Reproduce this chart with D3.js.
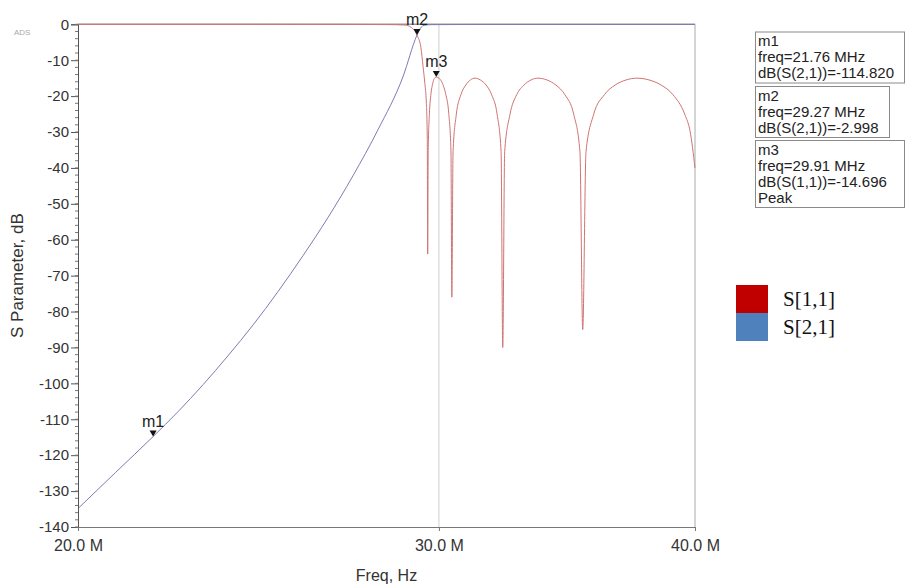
<!DOCTYPE html>
<html>
<head>
<meta charset="utf-8">
<script src="https://cdn.jsdelivr.net/npm/d3@7"></script>
<style>
  body { margin: 0; background: #fff; }
  svg { font-family: 'Liberation Sans', Arial, sans-serif; }
</style>
</head>
<body>
<div id="chart"></div>
<script>
    var width = 906,
        height = 585;

    // frequencies in MHz, levels in dB
    var s21Freq = [20, 20.86, 21.76, 22.38, 23.02, 23.67, 24.35, 25.04, 25.75, 26.49, 27.24, 28.02, 28.81, 29.27, 29.35, 29.42, 29.5, 29.7, 31, 40];
    var s21dB   = [-134.86, -124.83, -114.82, -107.86, -100.33, -92.32, -83.69, -74.42, -64.46, -53.73, -42.17, -29.28, -14.66, -2.998, -1.6, -0.7, -0.3, -0.1, -0.05, -0.05];

    var s11Freq = [20, 24, 27, 28.3, 28.87, 29.07, 29.27, 29.40, 29.47, 29.53, 29.58, 29.61, 29.624,
                   29.641, 29.681, 29.734, 29.791, 29.845, 29.91, 30.014, 30.122, 30.226, 30.334, 30.408, 30.438,
                   30.48, 30.59, 30.75, 30.92, 31.08, 31.24, 31.43, 31.63, 31.83, 32.03, 32.17, 32.23,
                   32.30, 32.49, 32.74, 33.01, 33.27, 33.53, 33.87, 34.21, 34.56, 34.91, 35.15, 35.26,
                   35.39, 35.69, 36.13, 36.57, 37.02, 37.48, 37.99, 38.50, 39.02, 39.55, 39.78, 40];
    var s11dB   = [0, 0, -0.02, -0.08, -0.2, -0.8, -3.0, -6.5, -11.8, -16.5, -22, -32, -64,
                   -35.2, -24.9, -19.3, -16.5, -15.1, -14.696, -15.1, -16.5, -19.3, -24.9, -35.2, -76,
                   -35.5, -25.2, -19.6, -16.9, -15.5, -15.0, -15.5, -16.9, -19.6, -25.2, -35.5, -90,
                   -35.5, -25.2, -19.6, -16.9, -15.5, -15.0, -15.5, -16.9, -19.6, -25.2, -35.5, -85,
                   -35.5, -25.2, -19.6, -16.9, -15.5, -15.0, -15.5, -16.9, -19.6, -25.2, -29.8, -40];

    var xTicks = [20, 30, 40];
    var xTickLabels = ['20.0 M', '30.0 M', '40.0 M'];
    var yTicks = d3.range(-140, 1, 10);
    var yMinor = d3.range(-140, 1, 2);

    var markerNames = ['m1', 'm2', 'm3'];
    var markerFreq  = [21.76, 29.27, 29.91];
    var markerdB    = [-114.82, -2.998, -14.696];
    var markerText  = [
        ['m1', 'freq=21.76 MHz', 'dB(S(2,1))=-114.820'],
        ['m2', 'freq=29.27 MHz', 'dB(S(2,1))=-2.998'],
        ['m3', 'freq=29.91 MHz', 'dB(S(1,1))=-14.696', 'Peak']
    ];

    var legendNames  = ['S[1,1]', 'S[2,1]'];
    var legendColors = ['#c00000', '#4f81bd'];

    var x = d3.scaleLog().domain([20, 40]).range([78, 695]);
    var y = d3.scaleLinear().domain([-140, 0]).range([527, 24.3]);

    var svg = d3.select('#chart')
        .append('svg')
        .attr('width', width)
        .attr('height', height);

    svg.append('rect').attr('width', width).attr('height', height).attr('fill', '#fff');

    svg.append('text')
        .attr('x', 14).attr('y', 35)
        .attr('font-size', 8).attr('fill', '#aaa')
        .text('ADS');

    // frame and grid
    svg.append('line')
        .attr('x1', x(30)).attr('x2', x(30)).attr('y1', y(0)).attr('y2', y(-140))
        .attr('stroke', '#d0d0d0').attr('stroke-width', 1);
    svg.append('line')
        .attr('x1', x(20)).attr('x2', x(40)).attr('y1', y(0)).attr('y2', y(0))
        .attr('stroke', '#999').attr('stroke-width', 1.5);
    svg.append('line')
        .attr('x1', x(40)).attr('x2', x(40)).attr('y1', y(0)).attr('y2', y(-140))
        .attr('stroke', '#aaa').attr('stroke-width', 1);

    // curves
    var line = d3.line()
        .x(function(d){ return x(d[0]); })
        .y(function(d){ return y(d[1]); })
        .curve(d3.curveMonotoneX);

    svg.append('path')
        .attr('d', line(d3.zip(s11Freq, s11dB)))
        .attr('fill', 'none')
        .attr('stroke', '#cf7474')
        .attr('stroke-width', 1);

    svg.append('path')
        .attr('d', line(d3.zip(s21Freq, s21dB)))
        .attr('fill', 'none')
        .attr('stroke', '#7c7cb2')
        .attr('stroke-width', 1);

    // y axis
    var yAxis = svg.append('g')
        .attr('transform', 'translate(' + x(20) + ',0)')
        .call(d3.axisLeft(y).tickValues(yTicks).tickSize(7).tickPadding(2));
    yAxis.select('.domain').attr('stroke', '#555');
    yAxis.selectAll('.tick line').attr('stroke', '#555');
    yAxis.selectAll('text')
        .attr('font-size', 15)
        .attr('font-family', "'Liberation Sans', Arial, sans-serif")
        .attr('fill', '#333')
        .text(function(d){ return String(d); });

    svg.append('g').selectAll('line')
        .data(yMinor)
        .enter().append('line')
        .attr('x1', x(20) - 3).attr('x2', x(20))
        .attr('y1', function(d){ return y(d); })
        .attr('y2', function(d){ return y(d); })
        .attr('stroke', '#777');

    // x axis
    var xAxis = svg.append('g')
        .attr('transform', 'translate(0,' + y(-140) + ')')
        .call(d3.axisBottom(x).tickValues(xTicks).tickSize(4).tickPadding(9)
            .tickFormat(function(d, i){ return xTickLabels[i]; }));
    xAxis.select('.domain').attr('stroke', '#777');
    xAxis.selectAll('.tick line').attr('stroke', '#777');
    xAxis.selectAll('text')
        .attr('font-size', 16)
        .attr('font-family', "'Liberation Sans', Arial, sans-serif")
        .attr('fill', '#333');

    svg.append('text')
        .attr('x', (x(20) + x(40)) / 2).attr('y', 581)
        .attr('text-anchor', 'middle')
        .attr('font-size', 16).attr('fill', '#333')
        .text('Freq, Hz');

    svg.append('text')
        .attr('transform', 'translate(23,' + ((y(0) + y(-140)) / 2) + ') rotate(-90)')
        .attr('text-anchor', 'middle')
        .attr('font-size', 17).attr('fill', '#333')
        .text('S Parameter, dB');

    // markers
    var mk = svg.append('g').selectAll('g')
        .data(markerNames)
        .enter().append('g')
        .attr('transform', function(d, i){ return 'translate(' + x(markerFreq[i]) + ',' + y(markerdB[i]) + ')'; });
    mk.append('path')
        .attr('d', 'M -3.5 -6 L 3.5 -6 L 0 0 Z')
        .attr('fill', '#111');
    mk.append('text')
        .attr('y', -10)
        .attr('text-anchor', 'middle')
        .attr('font-size', 16).attr('fill', '#222')
        .text(function(d){ return d; });

    // marker readout boxes
    var boxTop = [32, 86.5, 140.5];
    var boxW = [149, 134, 149];
    var box = svg.append('g').selectAll('g')
        .data(markerText)
        .enter().append('g')
        .attr('transform', function(d, i){ return 'translate(755.5,' + boxTop[i] + ')'; });
    box.append('rect')
        .attr('width', function(d, i){ return boxW[i]; })
        .attr('height', function(d){ return d.length * 16 + 3; })
        .attr('fill', '#fff')
        .attr('stroke', '#8a8a8a');
    box.selectAll('text')
        .data(function(d){ return d; })
        .enter().append('text')
        .attr('x', 2.5)
        .attr('y', function(d, j){ return 14 + j * 16; })
        .attr('font-size', 15).attr('fill', '#222')
        .text(function(d){ return d; });

    // legend
    var lg = svg.append('g').selectAll('g')
        .data(legendNames)
        .enter().append('g')
        .attr('transform', function(d, i){ return 'translate(736,' + (285 + i * 28) + ')'; });
    lg.append('rect')
        .attr('width', 32).attr('height', 28)
        .attr('fill', function(d, i){ return legendColors[i]; });
    lg.append('text')
        .attr('x', 47).attr('y', 21)
        .attr('font-family', "'Liberation Serif', 'Times New Roman', serif")
        .attr('font-size', 21).attr('fill', '#111')
        .text(function(d){ return d; });
</script>
</body>
</html>
